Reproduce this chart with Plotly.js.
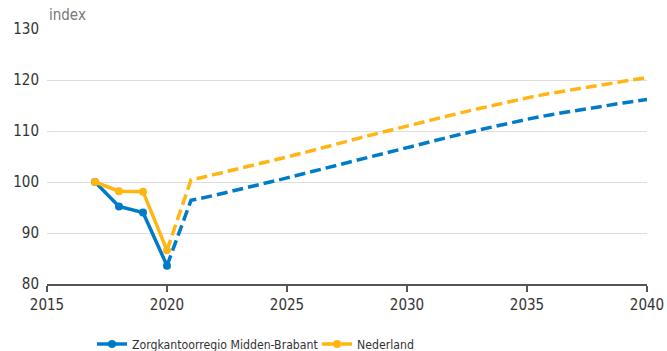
<!DOCTYPE html>
<html>
<head>
<meta charset="utf-8">
<script src="https://cdn.plot.ly/plotly-3.0.1.min.js"></script>
<style>html,body{margin:0;padding:0;background:#fff}#chart{width:667px;height:351px}</style>
</head>
<body>
<div id="chart"></div>
<script>
const seriesNames = ["Zorgkantoorregio Midden-Brabant", "Nederland"];
const yearsObserved = [2017, 2018, 2019, 2020];
const regioObserved = [100, 95.2, 94.0, 83.6];
const nlObserved = [100, 98.2, 98.1, 86.6];
const yearsProjected = [2020, 2021, 2022, 2023, 2024, 2025, 2026, 2027, 2028, 2029, 2030,
  2031, 2032, 2033, 2034, 2035, 2036, 2037, 2038, 2039, 2040];
const regioProjected = [83.6, 96.4, 97.4, 98.5, 99.6, 100.8, 102.0, 103.2, 104.4, 105.6, 106.8,
  108.0, 109.1, 110.2, 111.3, 112.3, 113.2, 114.0, 114.8, 115.5, 116.2];
const nlProjected = [86.6, 100.4, 101.5, 102.6, 103.7, 104.9, 106.1, 107.4, 108.6, 109.8, 111.0,
  112.2, 113.3, 114.4, 115.5, 116.5, 117.4, 118.2, 119.0, 119.8, 120.5];
const xTicks = [2015, 2020, 2025, 2030, 2035, 2040];
const yTicks = [80, 90, 100, 110, 120, 130];

const BLUE = "#007bc7", ORANGE = "#ffb612";
const FONT = "DejaVu Sans Condensed, DejaVu Sans, sans-serif";

const traces = [
  {x: yearsProjected, y: regioProjected, mode: "lines", line: {color: BLUE, width: 3.5, dash: "11px,5px"}, showlegend: false, hoverinfo: "skip"},
  {x: yearsProjected, y: nlProjected, mode: "lines", line: {color: ORANGE, width: 3.5, dash: "11px,5px"}, showlegend: false, hoverinfo: "skip"},
  {x: yearsObserved, y: regioObserved, mode: "lines+markers", name: seriesNames[0], line: {color: BLUE, width: 3.5}, marker: {color: BLUE, size: 8}},
  {x: yearsObserved, y: nlObserved, mode: "lines+markers", name: seriesNames[1], line: {color: ORANGE, width: 3.5}, marker: {color: ORANGE, size: 8}}
];

const layout = {
  width: 667, height: 351,
  margin: {l: 47, r: 20, t: 29, b: 67, autoexpand: false},
  paper_bgcolor: "#fff", plot_bgcolor: "#fff",
  font: {family: FONT, size: 15, color: "#333"},
  showlegend: true,
  legend: {orientation: "h", x: 0.075, xanchor: "left", y: -0.235, yanchor: "middle", entrywidth: 180,
    font: {family: FONT, size: 12.2, color: "#333"}, traceorder: "normal"},
  xaxis: {range: [2015, 2040], tickvals: xTicks, ticktext: xTicks.map(String), showgrid: false, zeroline: false,
    showline: true, linecolor: "#555", linewidth: 2, ticks: "outside", ticklen: 6, tickwidth: 2, tickcolor: "#555", fixedrange: true},
  yaxis: {range: [80, 130], tickvals: yTicks, ticktext: yTicks.map(String), showgrid: true, gridcolor: "#dedede", gridwidth: 1,
    zeroline: false, showline: false, ticks: "", ticklabelstandoff: 7, fixedrange: true},
  annotations: [{text: "index", xref: "paper", yref: "paper", x: 0, y: 1, xanchor: "left", yanchor: "bottom", yshift: 3, showarrow: false,
    font: {family: FONT, size: 15, color: "#777"}}]
};

Plotly.newPlot("chart", traces, layout, {displayModeBar: false, staticPlot: true});
</script>
</body>
</html>
